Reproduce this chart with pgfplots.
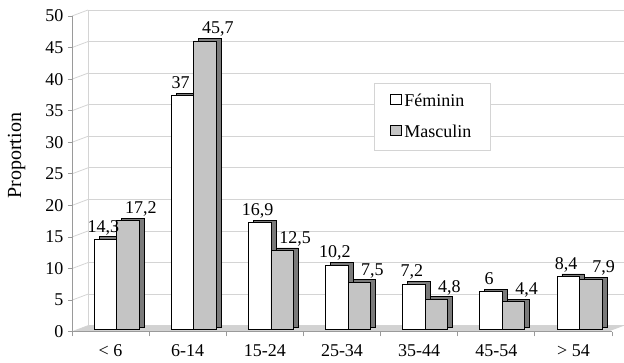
\documentclass[border=0pt]{standalone}
\usepackage{fontspec}
\setmainfont{Liberation Serif}
\usepackage{pgfplots}
\usepackage{pgfplotstable}
\pgfplotsset{compat=1.18}
\definecolor{mgrey}{HTML}{C4C4C4}
\definecolor{sidegrey}{HTML}{7A7A7A}
\definecolor{gridgrey}{HTML}{D4D4D4}
\definecolor{axgrey}{HTML}{9A9A9A}
\definecolor{floorgrey}{HTML}{D2D2D2}
\pgfplotstableread{
x F M
0 14.3 17.2
1 37 45.7
2 16.9 12.5
3 10.2 7.5
4 7.2 4.8
5 6 4.4
6 8.4 7.9
}\data
\begin{document}
\begin{tikzpicture}[font=\fontsize{13.5}{16}\selectfont]
\useasboundingbox (-54pt,-23.475pt) rectangle (414pt,248.775pt);
% back wall
\begin{axis}[at={(12pt,4.5pt)}, anchor=south west, scale only axis,
  width=402pt, height=236.775pt, xmin=0, xmax=1, ymin=0, ymax=50, clip=false,
  axis x line=none, axis y line=left, axis line style={-, draw=gridgrey, line width=0.6pt},
  ytick={0,5,...,50}, yticklabels={}, xtick=\empty, major tick length=0pt,
  ymajorgrids, grid style={draw=gridgrey, line width=0.6pt}]
\fill[floorgrey] (axis cs:0,0) -- (axis cs:1,0) -- ++(-12pt,-4.5pt) -- ([shift={(-12pt,-4.5pt)}]axis cs:0,0) -- cycle;
\pgfplotsinvokeforeach{0,5,...,50}{\draw[gridgrey, line width=0.6pt] (axis cs:0,#1) -- ++(-12pt,-4.5pt);}
\end{axis}
% front
\begin{axis}[at={(0pt,0pt)}, anchor=south west, scale only axis,
  width=405pt, height=236.775pt, xmin=-0.5, xmax=6.5, ymin=0, ymax=50, clip=false,
  axis x line=bottom, axis y line=left, axis line style={-, draw=axgrey, line width=0.6pt},
  ytick={0,5,...,50}, xtick={0,...,6},
  xticklabels={< 6,6-14,15-24,25-34,35-44,45-54,> 54},
  xticklabel style={yshift=-3pt},
  minor xtick={-0.5,0.5,...,6.5},
  tick align=outside, major tick length=3pt, minor tick length=3.5pt,
  tick style={draw=axgrey, line width=0.6pt},
  major x tick style={draw=none},
  /pgf/number format/.cd, use comma, assume math mode=true, /pgfplots/.cd,
  every node near coord/.append style={anchor=base, yshift=5.3pt, font=\fontsize{13.5}{16}\selectfont},
  legend style={at={(rel axis cs:0.559,0.789)}, anchor=north west, draw=gridgrey, line width=0.6pt,
    inner xsep=12pt, inner ysep=6.5pt, row sep=8pt, nodes={inner sep=2pt},
    font=\fontsize{13.5}{16}\selectfont},
  legend cell align=left]
\addplot[ybar, bar width=16.875pt, bar shift=-8.4375pt, xshift=8.25pt, yshift=3.6pt,
  fill=sidegrey, draw=black, line width=0.5pt, forget plot] table[x=x,y=F]{\data};
\addplot[ybar, bar width=16.875pt, bar shift=-8.4375pt, xshift=4.5pt, yshift=1.7pt,
  fill=white, draw=black, line width=0.5pt,
  nodes near coords, every node near coord/.append style={xshift=-9.9pt},
  legend image code/.code={\draw[fill=white, draw=black, line width=0.5pt] (0pt,-3.75pt) rectangle (8pt,3.75pt);}]
  table[x=x,y=F]{\data};
\addlegendentry{Féminin}
\addplot[ybar, bar width=16.875pt, bar shift=8.4375pt, xshift=8.25pt, yshift=3.6pt,
  fill=sidegrey, draw=black, line width=0.5pt, forget plot] table[x=x,y=M]{\data};
\addplot[ybar, bar width=16.875pt, bar shift=8.4375pt, xshift=4.5pt, yshift=1.7pt,
  fill=mgrey, draw=black, line width=0.5pt,
  nodes near coords, every node near coord/.append style={xshift=18.2pt},
  legend image code/.code={\draw[fill=mgrey, draw=black, line width=0.5pt] (0pt,-3.75pt) rectangle (8pt,3.75pt);}]
  table[x=x,y=M]{\data};
\addlegendentry{Masculin}
\end{axis}
\node[rotate=90, font=\fontsize{15}{18}\selectfont] at (-41.6pt,132pt) {Proportion};
\end{tikzpicture}
\end{document}
